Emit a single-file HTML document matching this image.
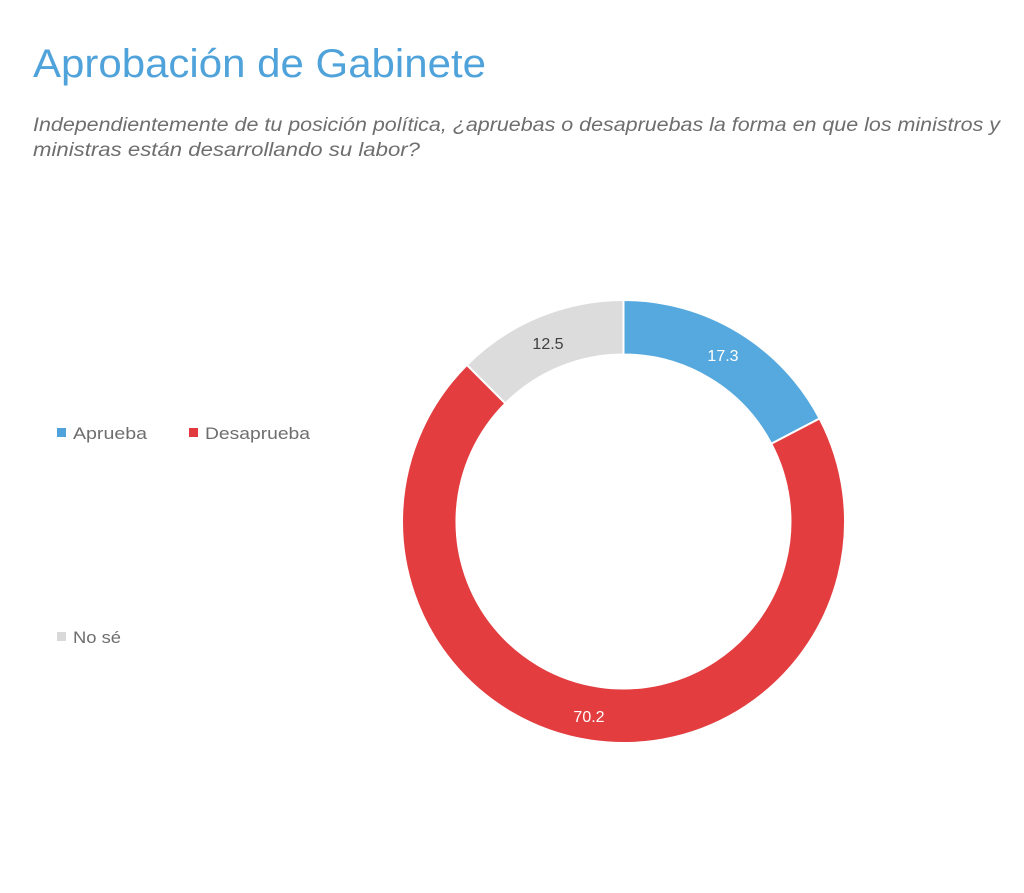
<!DOCTYPE html>
<html><head><meta charset="utf-8"><style>
html,body{margin:0;padding:0;background:#fff;}
svg{display:block;font-family:"Liberation Sans",sans-serif;}
</style></head><body>
<svg width="1024" height="893" viewBox="0 0 1024 893">
<text x="33" y="77" font-size="40" fill="#4fa3da" textLength="453" lengthAdjust="spacingAndGlyphs">Aprobación de Gabinete</text>
<text x="33" y="131" font-size="19" font-style="italic" fill="#6e6e6e" textLength="967" lengthAdjust="spacingAndGlyphs">Independientemente de tu posición política, ¿apruebas o desapruebas la forma en que los ministros y</text>
<text x="33" y="156" font-size="19" font-style="italic" fill="#6e6e6e" textLength="387" lengthAdjust="spacingAndGlyphs">ministras están desarrollando su labor?</text>

<rect x="57" y="428" width="9" height="9" fill="#4fa3da"/>
<text x="73" y="439" font-size="17" fill="#6e6e6e" textLength="74" lengthAdjust="spacingAndGlyphs">Aprueba</text>
<rect x="189" y="428" width="9" height="9" fill="#e03a3e"/>
<text x="205" y="439" font-size="17" fill="#6e6e6e" textLength="105" lengthAdjust="spacingAndGlyphs">Desaprueba</text>
<rect x="57" y="632" width="9" height="9" fill="#d9d9d9"/>
<text x="73" y="643" font-size="17" fill="#6e6e6e" textLength="48" lengthAdjust="spacingAndGlyphs">No sé</text>

<g stroke="#fff" stroke-width="2">
<path d="M623.5,300 A221.5 221.5 0 0 1 819.6,418.5 L771.3,443.8 A167 167 0 0 0 623.5,354.5 Z" fill="#56a9de"/>
<path d="M819.6,418.5 A221.5 221.5 0 1 1 466.9,364.9 L505.4,403.4 A167 167 0 1 0 771.3,443.8 Z" fill="#e33d40"/>
<path d="M466.9,364.9 A221.5 221.5 0 0 1 623.5,300 L623.5,354.5 A167 167 0 0 0 505.4,403.4 Z" fill="#dcdcdc"/>
</g>
<text x="723" y="361" font-size="16" fill="#fff" text-anchor="middle">17.3</text>
<text x="548" y="349" font-size="16" fill="#404040" text-anchor="middle">12.5</text>
<text x="589" y="722" font-size="16" fill="#fff" text-anchor="middle">70.2</text>
</svg>
</body></html>
